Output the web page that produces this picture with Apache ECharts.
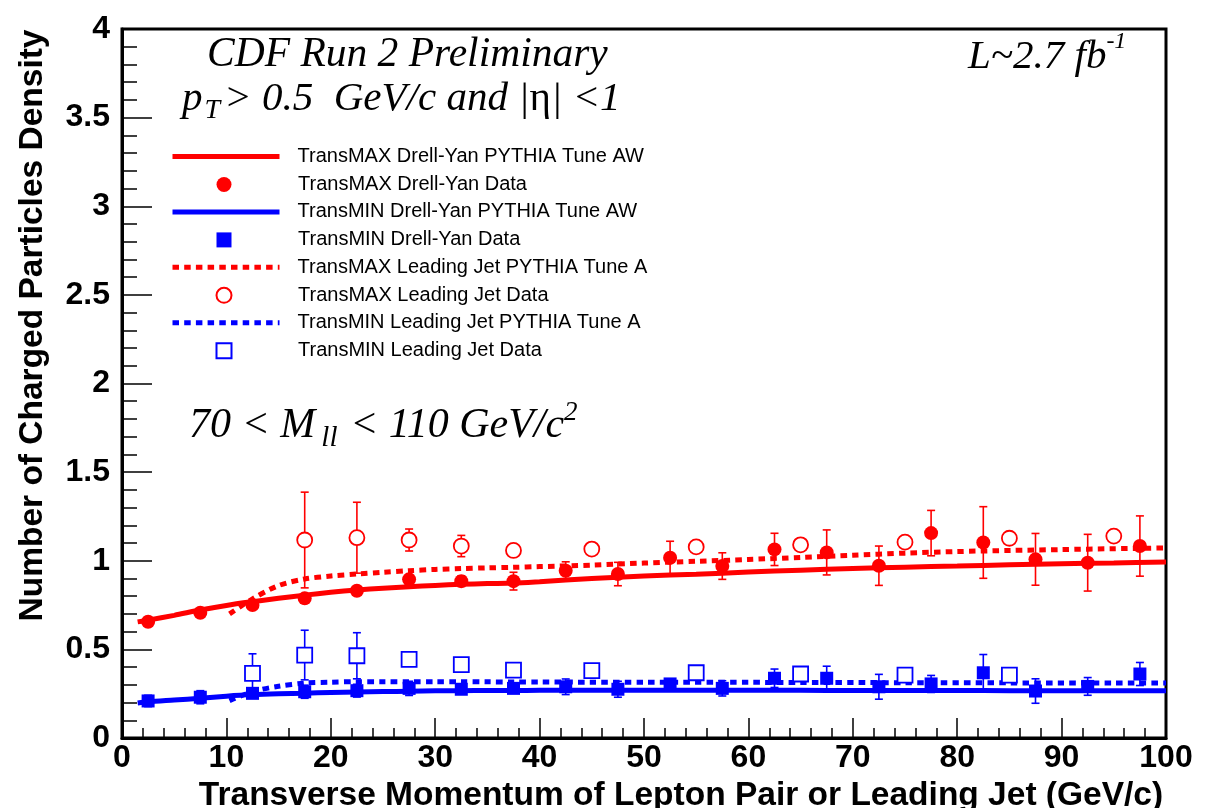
<!DOCTYPE html>
<html>
<head>
<meta charset="utf-8">
<script src="https://cdn.jsdelivr.net/npm/echarts@6/dist/echarts.min.js"></script>
<style>
  html, body { margin: 0; padding: 0; background: #fff; }
  #chart { width: 1216px; height: 808px; }
</style>
</head>
<body>
<div id="chart"></div>
<script>
// pT bin centres of the Drell-Yan measurement (GeV/c)
const dyBins = [2.5, 7.5, 12.5, 17.5, 22.5, 27.5, 32.5, 37.5, 42.5, 47.5,
                52.5, 57.5, 62.5, 67.5, 72.5, 77.5, 82.5, 87.5, 92.5, 97.5];

// TransMAX Drell-Yan data and uncertainties
const maxDYData = [0.656, 0.707, 0.750, 0.788, 0.831, 0.895, 0.885, 0.885, 0.944, 0.925,
                   1.017, 0.970, 1.064, 1.047, 0.972, 1.156, 1.103, 1.008, 0.989, 1.083];
const maxDYErr  = [0.010, 0.012, 0.015, 0.020, 0.020, 0.025, 0.030, 0.050, 0.050, 0.066,
                   0.093, 0.075, 0.091, 0.127, 0.111, 0.128, 0.202, 0.146, 0.160, 0.170];

// TransMIN Drell-Yan data and uncertainties
const minDYData = [0.209, 0.230, 0.252, 0.261, 0.267, 0.280, 0.275, 0.280, 0.289, 0.275,
                   0.305, 0.280, 0.337, 0.337, 0.289, 0.305, 0.368, 0.265, 0.291, 0.361];
const minDYErr  = [0.032, 0.037, 0.020, 0.037, 0.036, 0.040, 0.025, 0.025, 0.044, 0.045,
                   0.020, 0.043, 0.052, 0.068, 0.070, 0.048, 0.103, 0.069, 0.050, 0.065];

// TransMAX leading-jet data
const maxLJBins = [17.5, 22.5, 27.5, 32.5, 37.5, 45, 55, 65, 75, 85, 95];
const maxLJData = [1.117, 1.130, 1.117, 1.083, 1.058, 1.066, 1.078, 1.090, 1.105, 1.127, 1.139];
const maxLJErr  = [0.270, 0.200, 0.062, 0.060, 0.020, 0.015, 0.015, 0.015, 0.015, 0.015, 0.015];

// TransMIN leading-jet data
const minLJBins = [12.5, 17.5, 22.5, 27.5, 32.5, 37.5, 45, 55, 65, 75, 85];
const minLJData = [0.365, 0.468, 0.464, 0.444, 0.414, 0.383, 0.380, 0.368, 0.361, 0.355, 0.355];
const minLJErr  = [0.110, 0.140, 0.130, 0.015, 0.015, 0.015, 0.015, 0.015, 0.015, 0.015, 0.015];

// PYTHIA Tune AW predictions for Drell-Yan
const dyTuneX   = [1.5, 2.5, 5, 7.5, 10, 12.5, 15, 17.5, 20, 22.5, 25, 27.5, 30, 32.5, 35,
                   37.5, 40, 45, 50, 55, 60, 65, 70, 75, 80, 85, 90, 95, 100];
const maxDYTune = [0.655, 0.665, 0.692, 0.722, 0.748, 0.769, 0.788, 0.806, 0.822, 0.835, 0.845,
                   0.853, 0.861, 0.867, 0.871, 0.874, 0.882, 0.900, 0.914, 0.924, 0.936, 0.947,
                   0.956, 0.964, 0.970, 0.977, 0.983, 0.988, 0.993];
const minDYTune = [0.197, 0.204, 0.214, 0.224, 0.236, 0.245, 0.250, 0.253, 0.257, 0.260, 0.262,
                   0.264, 0.266, 0.267, 0.268, 0.268, 0.269, 0.270, 0.270, 0.270, 0.270, 0.269,
                   0.268, 0.268, 0.268, 0.267, 0.267, 0.267, 0.267];

// PYTHIA Tune A predictions for leading jet
const ljTuneX   = [10.3, 12.5, 15, 17.5, 20, 22.5, 25, 27.5, 30, 32.5, 35, 37.5, 40, 45, 50,
                   55, 60, 65, 70, 75, 80, 85, 90, 95, 100];
const maxLJTune = [0.700, 0.785, 0.860, 0.897, 0.914, 0.925, 0.935, 0.944, 0.951, 0.956, 0.960,
                   0.963, 0.967, 0.975, 0.987, 0.997, 1.007, 1.019, 1.031, 1.043, 1.052, 1.058,
                   1.063, 1.068, 1.072];
const minLJTune = [0.210, 0.262, 0.292, 0.310, 0.315, 0.318, 0.318, 0.318, 0.318, 0.318, 0.317,
                   0.316, 0.316, 0.315, 0.315, 0.314, 0.314, 0.313, 0.313, 0.312, 0.312, 0.311,
                   0.311, 0.310, 0.310];

const RED = '#ff0000';
const BLUE = '#0000ff';
const SANS = '"Liberation Sans", Arial, Helvetica, sans-serif';
const SERIF = '"Liberation Serif", "Times New Roman", serif';

const zip = (xs, ys) => xs.map((x, i) => [x, ys[i]]);
const zip3 = (xs, ys, es) => xs.map((x, i) => [x, ys[i], es[i]]);

// vertical error bars with small end caps
function errorBars(color) {
  return function (params, api) {
    const x = api.value(0), y = api.value(1), e = api.value(2);
    const top = api.coord([x, y + e]);
    const bot = api.coord([x, y - e]);
    const cap = 4;
    const st = { stroke: color, lineWidth: 1.6 };
    return {
      type: 'group',
      children: [
        { type: 'line', shape: { x1: top[0], y1: top[1], x2: bot[0], y2: bot[1] }, style: st },
        { type: 'line', shape: { x1: top[0] - cap, y1: top[1], x2: top[0] + cap, y2: top[1] }, style: st },
        { type: 'line', shape: { x1: bot[0] - cap, y1: bot[1], x2: bot[0] + cap, y2: bot[1] }, style: st }
      ]
    };
  };
}

function errSeries(xs, ys, es, color) {
  return {
    type: 'custom',
    renderItem: errorBars(color),
    data: zip3(xs, ys, es),
    encode: { x: 0, y: 1 },
    z: 3,
    silent: true
  };
}

function tuneLine(name, xs, ys, color, dashed) {
  return {
    name: name,
    type: 'line',
    data: zip(xs, ys),
    smooth: 0.3,
    symbol: 'none',
    lineStyle: { color: color, width: 5, type: dashed ? [6.5, 5.2] : 'solid', cap: 'butt' },
    itemStyle: { color: color },
    z: 2,
    silent: true
  };
}

function markers(name, xs, ys, symbol, size, color, open) {
  return {
    name: name,
    type: 'scatter',
    data: zip(xs, ys),
    symbol: symbol,
    symbolSize: size,
    itemStyle: open
      ? { color: '#ffffff', borderColor: color, borderWidth: 1.8, opacity: 1 }
      : { color: color, opacity: 1 },
    z: 4,
    silent: true
  };
}

const lineNames = [
  'TransMAX Drell-Yan PYTHIA Tune AW',
  'TransMIN Drell-Yan PYTHIA Tune AW',
  'TransMAX Leading Jet PYTHIA Tune A',
  'TransMIN Leading Jet PYTHIA Tune A'
];
const dataNames = [
  'TransMAX Drell-Yan Data',
  'TransMIN Drell-Yan Data',
  'TransMAX Leading Jet Data',
  'TransMIN Leading Jet Data'
];

const legendText = { fontFamily: SANS, fontSize: 20, color: '#000' };

const chart = echarts.init(document.getElementById('chart'), null, { renderer: 'canvas' });

chart.setOption({
  backgroundColor: '#ffffff',
  animation: false,
  grid: {
    left: 122, right: 50, top: 29, bottom: 70,
    outerBoundsMode: 'none',
    containLabel: false,
    show: true, borderColor: '#000', borderWidth: 3, backgroundColor: 'transparent'
  },
  xAxis: {
    type: 'value', min: 0, max: 100, interval: 10,
    name: 'Transverse Momentum of Lepton Pair or Leading Jet (GeV/c)',
    nameLocation: 'middle', nameGap: 32,
    nameTextStyle: { fontFamily: SANS, fontWeight: 'bold', fontSize: 33.5, color: '#000', padding: [0, 0, 0, 74] },
    axisLine: { lineStyle: { color: '#000', width: 3 } },
    axisTick: { inside: true, length: 20, lineStyle: { color: '#000', width: 1.5 } },
    minorTick: { show: true, splitNumber: 5, length: 10, lineStyle: { color: '#000', width: 1.5 } },
    axisLabel: { fontFamily: SANS, fontWeight: 'bold', fontSize: 32, color: '#000', margin: 4 },
    splitLine: { show: false }
  },
  yAxis: {
    type: 'value', min: 0, max: 4, interval: 0.5,
    name: 'Number of Charged Particles Density',
    nameLocation: 'middle', nameGap: 72,
    nameTextStyle: { fontFamily: SANS, fontWeight: 'bold', fontSize: 33.5, color: '#000', padding: [0, 0, 0, 116] },
    axisLine: { show: true, lineStyle: { color: '#000', width: 3 } },
    axisTick: { inside: true, length: 30, lineStyle: { color: '#000', width: 1.5 } },
    minorTick: { show: true, splitNumber: 5, length: 15, lineStyle: { color: '#000', width: 1.5 } },
    axisLabel: { fontFamily: SANS, fontWeight: 'bold', fontSize: 32, color: '#000', margin: 12 },
    splitLine: { show: false }
  },
  // two interleaved legends: line samples and data markers
  legend: [
    {
      data: lineNames.map(n => ({ name: n, itemStyle: { opacity: 0 } })),
      orient: 'vertical',
      left: 170, top: 146.5,
      padding: 0,
      itemWidth: 107, itemHeight: 14, itemGap: 35.4,
      selectedMode: false,
      lineStyle: { width: 5 },
      textStyle: Object.assign({ padding: [0, 0, 0, 13] }, legendText)
    },
    {
      data: dataNames,
      orient: 'vertical',
      left: 215.5, top: 174.5,
      padding: 0,
      itemWidth: 15, itemHeight: 15, itemGap: 35.4,
      selectedMode: false,
      textStyle: Object.assign({ padding: [0, 0, 0, 61.5] }, legendText)
    }
  ],
  graphic: [
    {
      type: 'text', left: 207, top: 35,
      style: { text: 'CDF Run 2 Preliminary', font: 'italic 41.5px ' + SERIF, fill: '#000' }
    },
    {
      type: 'text', left: 968, top: 30,
      style: {
        text: '{m|L~2.7 fb}{s|-1}',
        fill: '#000',
        rich: {
          m: { font: 'italic 41px ' + SERIF, lineHeight: 48, verticalAlign: 'bottom' },
          s: { font: 'italic 24px ' + SERIF, lineHeight: 24, verticalAlign: 'top' }
        }
      }
    },
    {
      type: 'text', left: 182, top: 79,
      style: {
        text: '{m|p}{b|T}{m|> 0.5  GeV/c and |}{g|η}{m|| <1}',
        fill: '#000',
        rich: {
          m: { font: 'italic 41px ' + SERIF, lineHeight: 50 },
          g: { font: '41px ' + SERIF, lineHeight: 50 },
          b: { font: 'italic 28px ' + SERIF, lineHeight: 28, verticalAlign: 'bottom', padding: [0, 4, 0, 2] }
        }
      }
    },
    {
      type: 'text', left: 189, top: 399,
      style: {
        text: '{m|70 < M}{b|ll}{m| < 110 GeV/c}{s|2}',
        fill: '#000',
        rich: {
          m: { font: 'italic 42px ' + SERIF, lineHeight: 54 },
          b: { font: 'italic 29px ' + SERIF, lineHeight: 29, verticalAlign: 'bottom', padding: [0, 2, 0, 6] },
          s: { font: 'italic 27px ' + SERIF, lineHeight: 27, verticalAlign: 'top' }
        }
      }
    }
  ],
  series: [
    tuneLine(lineNames[0], dyTuneX, maxDYTune, RED, false),
    tuneLine(lineNames[1], dyTuneX, minDYTune, BLUE, false),
    tuneLine(lineNames[2], ljTuneX, maxLJTune, RED, true),
    tuneLine(lineNames[3], ljTuneX, minLJTune, BLUE, true),

    errSeries(dyBins, maxDYData, maxDYErr, RED),
    errSeries(dyBins, minDYData, minDYErr, BLUE),
    errSeries(maxLJBins, maxLJData, maxLJErr, RED),
    errSeries(minLJBins, minLJData, minLJErr, BLUE),

    markers(dataNames[0], dyBins, maxDYData, 'circle', 14, RED, false),
    markers(dataNames[1], dyBins, minDYData, 'rect', 13, BLUE, false),
    markers(dataNames[2], maxLJBins, maxLJData, 'circle', 15, RED, true),
    markers(dataNames[3], minLJBins, minLJData, 'rect', 15, BLUE, true)
  ]
});
</script>
</body>
</html>
